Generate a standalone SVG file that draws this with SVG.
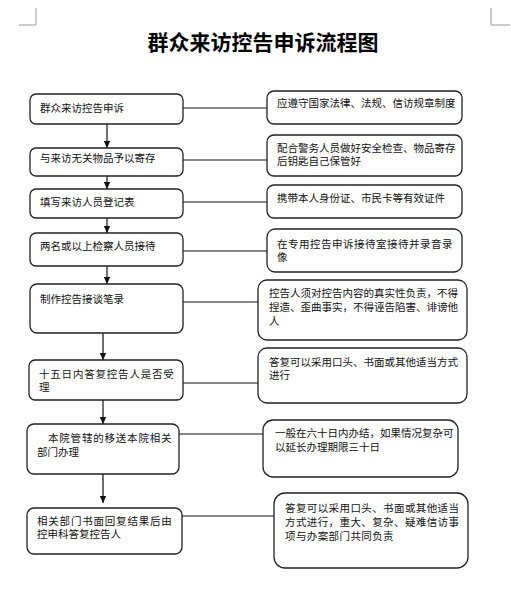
<svg xmlns="http://www.w3.org/2000/svg" width="511" height="600" viewBox="0 0 511 600">
<style>
.b{fill:#fff;stroke:#222;stroke-width:1.3}
.t{font-family:"Liberation Sans","Noto Sans CJK SC",sans-serif;font-size:10.5px;fill:#111}
.w{letter-spacing:0.8px}
.c{stroke:#111;stroke-width:1.2;fill:none}
.m{stroke:#999;stroke-width:1;fill:none}
</style>
<defs>
<marker id="a" markerWidth="8" markerHeight="8" refX="7" refY="4" orient="auto" markerUnits="userSpaceOnUse">
<path d="M0,0.8 L7,4 L0,7.2 Z" fill="#111"/>
</marker>
</defs>
<rect width="511" height="600" fill="#fff"/>
<path class="m" d="M19,25 H36 V8 M510,25 H491 V8"/>
<text x="263" y="50" text-anchor="middle" style="font-family:'Noto Sans CJK SC',sans-serif;font-size:21px;font-weight:700;fill:#000">群众来访控告申诉流程图</text>

<g id="connectors">
<line class="c" x1="107" y1="124" x2="107" y2="148" marker-end="url(#a)"/>
<line class="c" x1="107" y1="176" x2="107" y2="189" marker-end="url(#a)"/>
<line class="c" x1="107" y1="218" x2="107" y2="233" marker-end="url(#a)"/>
<line class="c" x1="107" y1="266" x2="107" y2="284" marker-end="url(#a)"/>
<line class="c" x1="103" y1="333" x2="103" y2="360" marker-end="url(#a)"/>
<line class="c" x1="103" y1="400" x2="103" y2="424" marker-end="url(#a)"/>
<line class="c" x1="103" y1="474" x2="103" y2="503" marker-end="url(#a)"/>
<line class="c" x1="183" y1="108" x2="267" y2="108"/>
<line class="c" x1="183" y1="160" x2="267" y2="160"/>
<line class="c" x1="183" y1="202" x2="267" y2="202"/>
<line class="c" x1="183" y1="251" x2="267" y2="251"/>
<line class="c" x1="183" y1="302" x2="258" y2="302"/>
<line class="c" x1="183" y1="383" x2="258" y2="383"/>
<line class="c" x1="179" y1="434" x2="263" y2="434"/>
<line class="c" x1="182" y1="516" x2="274" y2="516"/>
</g>

<g id="n1"><rect class="b" x="30" y="94" width="153" height="30" rx="6"/><text class="t" x="40" y="112">群众来访控告申诉</text></g>
<g id="n2"><rect class="b" x="30" y="148" width="153" height="28" rx="6"/><text class="t" x="40" y="162">与来访无关物品予以寄存</text></g>
<g id="n3"><rect class="b" x="30" y="189" width="153" height="29" rx="6"/><text class="t" x="40" y="206">填写来访人员登记表</text></g>
<g id="n4"><rect class="b" x="30" y="233" width="153" height="33" rx="6"/><text class="t" x="40" y="250">两名或以上检察人员接待</text></g>
<g id="n5"><rect class="b" x="30" y="284" width="153" height="49" rx="7"/><text class="t" x="40" y="303">制作控告接谈笔录</text></g>
<g id="n6"><rect class="b" x="29" y="360" width="154" height="40" rx="6"/><text class="t w" x="39" y="378">十五日内答复控告人是否受</text><text class="t" x="39" y="391">理</text></g>
<g id="n7"><rect class="b" x="27" y="424" width="152" height="50" rx="7"/><text class="t w" x="48" y="442">本院管辖的移送本院相关</text><text class="t" x="37" y="456">部门办理</text></g>
<g id="n8"><rect class="b" x="27" y="508" width="155" height="46" rx="7"/><text class="t w" x="37" y="525">相关部门书面回复结果后由</text><text class="t" x="37" y="538">控申科答复控告人</text></g>

<g id="r1"><rect class="b" x="267" y="91" width="195" height="33" rx="7"/><text class="t" x="277" y="107">应遵守国家法律、法规、信访规章制度</text></g>
<g id="r2"><rect class="b" x="267" y="135" width="195" height="41" rx="7"/><text class="t" x="277" y="152">配合警务人员做好安全检查、物品寄存</text><text class="t" x="277" y="165">后钥匙自己保管好</text></g>
<g id="r3"><rect class="b" x="267" y="185" width="195" height="33" rx="7"/><text class="t" x="277" y="202">携带本人身份证、市民卡等有效证件</text></g>
<g id="r4"><rect class="b" x="267" y="229" width="195" height="43" rx="8"/><text class="t" x="277" y="248" style="letter-spacing:0.5px">在专用控告申诉接待室接待并录音录</text><text class="t" x="277" y="261">像</text></g>
<g id="r5"><rect class="b" x="258" y="280" width="209" height="60" rx="9"/><text class="t" x="269" y="297">控告人须对控告内容的真实性负责，不得</text><text class="t" x="269" y="311">捏造、歪曲事实，不得诬告陷害、诽谤他</text><text class="t" x="269" y="325">人</text></g>
<g id="r6"><rect class="b" x="258" y="348" width="209" height="55" rx="9"/><text class="t" x="269" y="366">答复可以采用口头、书面或其他适当方式</text><text class="t" x="269" y="379">进行</text></g>
<g id="r7"><rect class="b" x="263" y="420" width="195" height="57" rx="10"/><text class="t" x="275" y="437">一般在六十日内办结，如果情况复杂可</text><text class="t" x="275" y="451">以延长办理期限三十日</text></g>
<g id="r8"><rect class="b" x="274" y="493" width="194" height="75" rx="11"/><text class="t" x="285" y="512" style="letter-spacing:0.4px">答复可以采用口头、书面或其他适当</text><text class="t" x="285" y="526" style="letter-spacing:0.4px">方式进行，重大、复杂、疑难信访事</text><text class="t" x="285" y="540" style="letter-spacing:0.4px">项与办案部门共同负责</text></g>
</svg>
